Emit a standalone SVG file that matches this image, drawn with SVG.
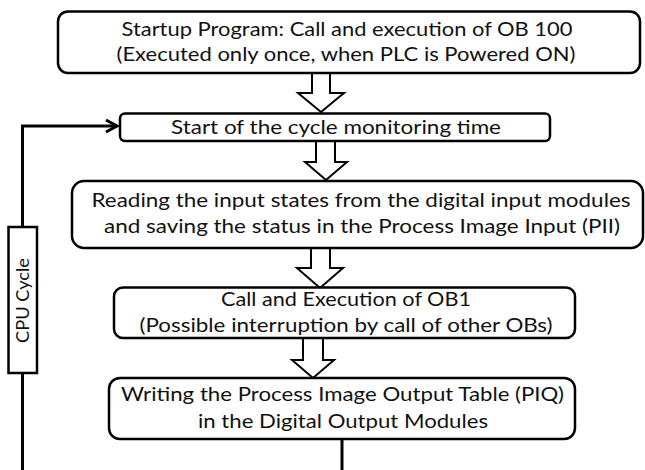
<svg xmlns="http://www.w3.org/2000/svg" width="645" height="470" viewBox="0 0 645 470">
<style>
.box{fill:#fff;stroke:#000;stroke-width:2.5}
.blk{fill:#fff;stroke:#000;stroke-width:2;stroke-linejoin:miter}
.t{font-family:Lato,"Open Sans","Liberation Sans",sans-serif;font-size:19px;fill:#111;text-anchor:middle}
.ln{fill:none;stroke:#000;stroke-width:3}
</style>
<rect width="645" height="470" fill="#fff"/>
<g id="connectors">
<polyline class="ln" points="342,439 342,472"/>
<polyline class="ln" points="22.5,472 22.5,373"/>
<polyline class="ln" points="22.5,227 22.5,126 117,126"/>
<polyline class="ln" points="106,120 117,126 106,132" stroke-linejoin="miter"/>
<polygon class="blk" points="312,73 330,73 330,93 344,93 321,112 298,93 312,93"/>
<polygon class="blk" points="316,141 335,141 335,162 347,162 326,180 305,162 316,162"/>
<polygon class="blk" points="311,248 330,248 330,268 343,268 320,288 297,268 311,268"/>
<polygon class="blk" points="303,338 323,338 323,360 334,360 313,378 292,360 303,360"/>
</g>
<g id="cpu-cycle">
<rect x="8.5" y="227" width="28.5" height="146" fill="#fff" stroke="#000" stroke-width="2.5"/>
<text class="t" style="font-size:18px" transform="translate(29,300.5) rotate(-90)" textLength="85" lengthAdjust="spacingAndGlyphs">CPU Cycle</text>
</g>
<g id="startup">
<rect class="box" x="58" y="11.5" width="582" height="61.5" rx="10"/>
<text class="t" x="347" y="36" textLength="451" lengthAdjust="spacingAndGlyphs">Startup Program: Call and execution of OB 100</text>
<text class="t" x="346" y="61" textLength="459" lengthAdjust="spacingAndGlyphs">(Executed only once, when PLC is Powered ON)</text>
</g>
<g id="start-cycle">
<rect class="box" x="120" y="113.5" width="430" height="27.5" rx="5"/>
<text class="t" x="336" y="134" textLength="330" lengthAdjust="spacingAndGlyphs">Start of the cycle monitoring time</text>
</g>
<g id="read-inputs">
<rect class="box" x="72" y="181" width="571" height="67" rx="12"/>
<text class="t" x="361" y="207" textLength="539" lengthAdjust="spacingAndGlyphs">Reading the input states from the digital input modules</text>
<text class="t" x="362" y="233" textLength="516" lengthAdjust="spacingAndGlyphs">and saving the status in the Process Image Input (PII)</text>
</g>
<g id="ob1">
<rect class="box" x="114" y="287.5" width="461" height="50.5" rx="9"/>
<text class="t" x="346" y="306" textLength="250" lengthAdjust="spacingAndGlyphs">Call and Execution of OB1</text>
<text class="t" x="346" y="332" textLength="413" lengthAdjust="spacingAndGlyphs">(Possible interruption by call of other OBs)</text>
</g>
<g id="write-outputs">
<rect class="box" x="109" y="378" width="466" height="61" rx="11"/>
<text class="t" x="342.5" y="401" textLength="443" lengthAdjust="spacingAndGlyphs">Writing the Process Image Output Table (PIQ)</text>
<text class="t" x="343" y="428" textLength="290" lengthAdjust="spacingAndGlyphs">in the Digital Output Modules</text>
</g>
</svg>
